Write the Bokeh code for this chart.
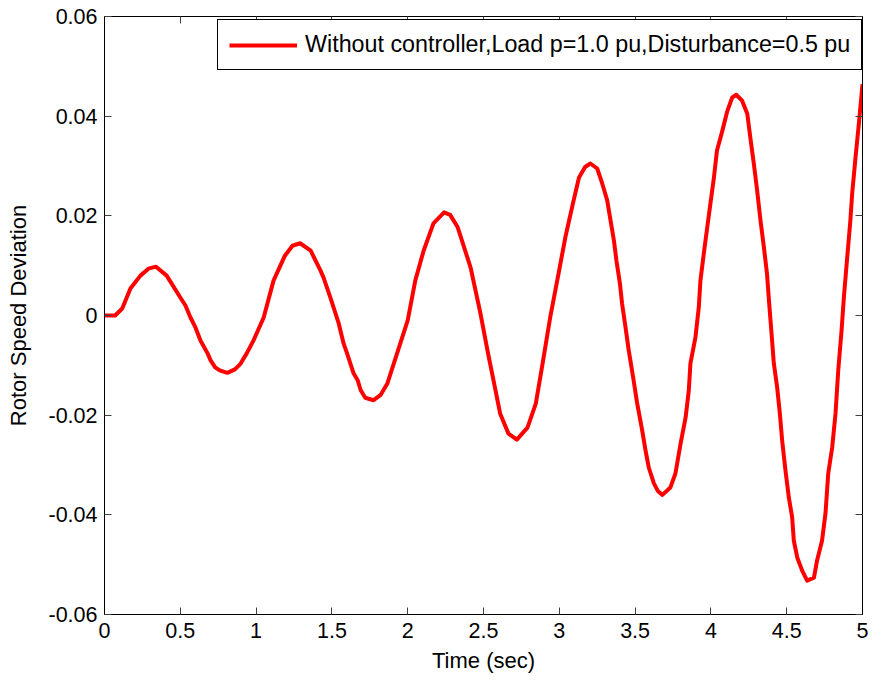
from bokeh.plotting import figure
from bokeh.models import LinearAxis, FixedTicker, Range1d
from bokeh.embed import file_html
from bokeh.resources import INLINE

# ---- data ----
time_sec = [0.000, 0.070, 0.117, 0.171, 0.237, 0.290, 0.340, 0.410, 0.500, 0.534,
            0.567, 0.600, 0.633, 0.680, 0.700, 0.730, 0.760, 0.810, 0.860, 0.897,
            0.940, 0.983, 1.050, 1.115, 1.190, 1.240, 1.290, 1.360, 1.425, 1.445,
            1.490, 1.545, 1.577, 1.600, 1.643, 1.670, 1.690, 1.720, 1.775, 1.820,
            1.865, 1.930, 2.000, 2.050, 2.105, 2.170, 2.240, 2.280, 2.330, 2.415,
            2.480, 2.530, 2.566, 2.610, 2.665, 2.720, 2.790, 2.845, 2.890, 2.940,
            2.995, 3.040, 3.090, 3.130, 3.170, 3.205, 3.250, 3.283, 3.316, 3.338,
            3.360, 3.377, 3.400, 3.414, 3.437, 3.458, 3.487, 3.514, 3.547, 3.569,
            3.590, 3.624, 3.650, 3.680, 3.733, 3.766, 3.800, 3.833, 3.854, 3.865,
            3.898, 3.920, 3.931, 3.953, 3.976, 3.997, 4.020, 4.040, 4.074, 4.107,
            4.140, 4.167, 4.206, 4.240, 4.260, 4.283, 4.305, 4.327, 4.350, 4.370,
            4.383, 4.400, 4.415, 4.437, 4.455, 4.470, 4.492, 4.514, 4.536, 4.547,
            4.570, 4.602, 4.635, 4.680, 4.700, 4.733, 4.756, 4.774, 4.800, 4.822,
            4.840, 4.862, 4.877, 4.899, 4.920, 4.932, 4.954, 4.976, 5.000]
speed_dev = [0.0000, 0.0000, 0.0014, 0.0054, 0.0080, 0.0094, 0.0098, 0.0080, 0.0036, 0.0020,
             -0.0004, -0.0024, -0.0050, -0.0076, -0.0090, -0.0104, -0.0110, -0.0115, -0.0108, -0.0097,
             -0.0075, -0.0050, -0.0004, 0.0070, 0.0120, 0.0140, 0.0145, 0.0130, 0.0090, 0.0076,
             0.0036, -0.0016, -0.0056, -0.0076, -0.0116, -0.0130, -0.0150, -0.0165, -0.0170, -0.0160,
             -0.0137, -0.0076, -0.0010, 0.0070, 0.0130, 0.0185, 0.0207, 0.0202, 0.0177, 0.0096,
             0.0004, -0.0076, -0.0130, -0.0197, -0.0237, -0.0249, -0.0225, -0.0177, -0.0096, -0.0004,
             0.0084, 0.0157, 0.0225, 0.0277, 0.0298, 0.0305, 0.0295, 0.0265, 0.0231, 0.0191,
             0.0151, 0.0110, 0.0064, 0.0024, -0.0024, -0.0070, -0.0124, -0.0177, -0.0231, -0.0271,
             -0.0305, -0.0337, -0.0352, -0.0360, -0.0345, -0.0317, -0.0257, -0.0205, -0.0151, -0.0096,
             -0.0044, 0.0016, 0.0070, 0.0124, 0.0177, 0.0225, 0.0277, 0.0331, 0.0369, 0.0409,
             0.0437, 0.0443, 0.0431, 0.0405, 0.0357, 0.0305, 0.0251, 0.0191, 0.0136, 0.0084,
             0.0030, -0.0036, -0.0096, -0.0144, -0.0197, -0.0251, -0.0311, -0.0365, -0.0405, -0.0452,
             -0.0486, -0.0512, -0.0532, -0.0526, -0.0492, -0.0452, -0.0397, -0.0317, -0.0265, -0.0197,
             -0.0110, -0.0030, 0.0036, 0.0116, 0.0191, 0.0245, 0.0317, 0.0385, 0.0464]

x_ticks = [0, 0.5, 1, 1.5, 2, 2.5, 3, 3.5, 4, 4.5, 5]
x_tick_labels = ["0", "0.5", "1", "1.5", "2", "2.5", "3", "3.5", "4", "4.5", "5"]
y_ticks = [-0.06, -0.04, -0.02, 0, 0.02, 0.04, 0.06]
y_tick_labels = ["-0.06", "-0.04", "-0.02", "0", "0.02", "0.04", "0.06"]
series_label = "Without controller,Load p=1.0 pu,Disturbance=0.5 pu"
x_title = "Time (sec)"
y_title = "Rotor Speed Deviation"

FONT = "Liberation Sans"

p = figure(width=875, height=681, output_backend="svg", toolbar_location=None,
           x_range=Range1d(0, 5), y_range=Range1d(-0.06, 0.06),
           min_border_left=104, min_border_right=13, min_border_top=16,
           min_border_bottom=67, background_fill_color="white",
           border_fill_color="white", outline_line_color="black",
           outline_line_width=1)
p.xgrid.visible = False
p.ygrid.visible = False

p.line(time_sec, speed_dev, line_color="#ff0000", line_width=4,
       line_join="round", legend_label=series_label)


def style_axis(ax, ticks, labels, show_labels=True):
    ax.ticker = FixedTicker(ticks=ticks, minor_ticks=[])
    ax.major_label_overrides = {t: l for t, l in zip(ticks, labels)}
    ax.major_tick_in = 7
    ax.major_tick_out = 0
    ax.minor_tick_in = 0
    ax.minor_tick_out = 0
    ax.major_tick_line_color = "#404040"
    ax.axis_line_color = "black"
    ax.axis_line_width = 1
    ax.major_label_text_font = FONT
    ax.major_label_text_color = "black"
    if show_labels:
        ax.major_label_text_font_size = "21.5px"
    else:
        ax.major_label_text_font_size = "0px"
        ax.major_label_text_alpha = 0
    ax.axis_label_text_font = FONT
    ax.axis_label_text_font_size = "22px"
    ax.axis_label_text_font_style = "normal"
    ax.axis_label_text_color = "black"


style_axis(p.xaxis[0], x_ticks, x_tick_labels)
style_axis(p.yaxis[0], y_ticks, y_tick_labels)
p.xaxis[0].axis_label = x_title
p.yaxis[0].axis_label = y_title
p.xaxis[0].major_label_standoff = 8
p.xaxis[0].axis_label_standoff = 7
p.yaxis[0].major_label_standoff = 7
p.yaxis[0].axis_label_standoff = 14

top_axis = LinearAxis()
style_axis(top_axis, x_ticks, x_tick_labels, show_labels=False)
p.add_layout(top_axis, "above")
right_axis = LinearAxis()
style_axis(right_axis, y_ticks, y_tick_labels, show_labels=False)
p.add_layout(right_axis, "right")

lg = p.legend[0]
lg.location = (113, 544)
lg.border_line_color = "black"
lg.border_line_width = 1
lg.border_line_alpha = 1
lg.background_fill_color = "white"
lg.background_fill_alpha = 1
lg.label_text_font = FONT
lg.label_text_font_size = "23.3px"
lg.label_text_color = "black"
lg.glyph_width = 68
lg.glyph_height = 20
lg.label_height = 20
lg.label_standoff = 8
lg.padding = 11
lg.margin = 0

open("out.html", "w").write(file_html(p, INLINE))
